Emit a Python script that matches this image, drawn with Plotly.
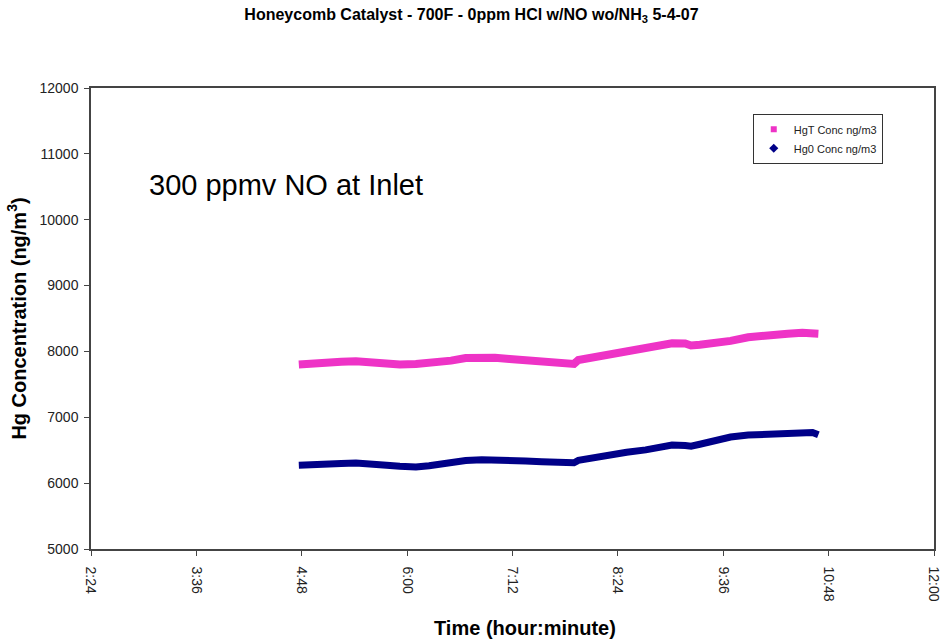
import plotly.graph_objects as go

times = ["4:46", "4:55", "5:05", "5:15", "5:25", "5:32", "5:40", "5:46", "5:55", "6:06",
         "6:15", "6:22", "6:30", "6:40", "6:51", "7:00", "7:10", "7:21", "7:32", "7:44",
         "7:50", "7:54", "7:57", "8:05", "8:18", "8:30", "8:43", "8:52", "9:01", "9:10",
         "9:14", "9:20", "9:31", "9:41", "9:53", "10:00", "10:09", "10:20", "10:30", "10:37",
         "10:41"]

hgt = [7800, 7820, 7835, 7845, 7850, 7835, 7815, 7800, 7800, 7810,
       7820, 7835, 7860, 7900, 7915, 7905, 7885, 7865, 7840, 7825,
       7815, 7810, 7870, 7900, 7975, 8020, 8055, 8100, 8125, 8120,
       8090, 8100, 8120, 8160, 8215, 8235, 8255, 8270, 8285, 8285,
       8270]

hg0 = [6270, 6285, 6297, 6300, 6305, 6300, 6285, 6270, 6255, 6245,
       6265, 6290, 6310, 6345, 6355, 6355, 6345, 6335, 6325, 6310,
       6305, 6310, 6345, 6380, 6430, 6470, 6505, 6540, 6580, 6570,
       6560, 6590, 6660, 6700, 6730, 6740, 6745, 6760, 6775, 6770,
       6735]

tick_labels = ["2:24", "3:36", "4:48", "6:00", "7:12", "8:24", "9:36", "10:48", "12:00"]
y_ticks = [5000, 6000, 7000, 8000, 9000, 10000, 11000, 12000]
y_tick_labels = [str(v) for v in y_ticks]


def to_hours(s):
    h, m = s.split(":")
    return int(h) + int(m) / 60.0


x = [to_hours(t) for t in times]
tick_vals = [to_hours(t) for t in tick_labels]

PINK = "#EE33C6"
NAVY = "#000088"
FONT = "Liberation Sans, Arial, sans-serif"

fig = go.Figure()
fig.add_trace(go.Scatter(x=x, y=hgt, mode="lines", line=dict(color=PINK, width=8),
                         showlegend=False, hoverinfo="skip"))
fig.add_trace(go.Scatter(x=x, y=hg0, mode="lines", line=dict(color=NAVY, width=7),
                         showlegend=False, hoverinfo="skip"))
fig.add_trace(go.Scatter(x=[None], y=[None], mode="markers", name="HgT Conc ng/m3",
                         marker=dict(symbol="square", color=PINK, size=6)))
fig.add_trace(go.Scatter(x=[None], y=[None], mode="markers", name="Hg0 Conc ng/m3",
                         marker=dict(symbol="diamond", color=NAVY, size=7)))

fig.add_annotation(text="300 ppmv NO at Inlet", xref="paper", yref="paper",
                   x=0.066, y=0.79, xanchor="left", yanchor="middle", showarrow=False,
                   font=dict(family=FONT, size=29, color="#000000"))

fig.add_annotation(text="<b>Time (hour:minute)</b>", xref="paper", yref="paper",
                   x=0.515, y=-0.171, xanchor="center", yanchor="middle", showarrow=False,
                   font=dict(family=FONT, size=20, color="#000000"))

fig.update_layout(
    width=943, height=641,
    margin=dict(l=91, r=9, t=88, b=92),
    paper_bgcolor="white", plot_bgcolor="white",
    font=dict(family=FONT, color="#222222"),
    title=dict(text="<b>Honeycomb Catalyst - 700F - 0ppm HCl w/NO wo/NH<sub>3</sub> 5-4-07</b>",
               x=0.5, xanchor="center", y=0.978, yanchor="middle",
               font=dict(family=FONT, size=16, color="#000000")),
    legend=dict(x=0.785, y=0.944, xanchor="left", yanchor="top",
                bgcolor="white", bordercolor="#333333", borderwidth=1,
                font=dict(family=FONT, size=11, color="#222222"),
                itemwidth=30, tracegroupgap=0),
    xaxis=dict(range=[2.4, 12.0], tickvals=tick_vals, ticktext=tick_labels,
               tickangle=90, ticks="outside", ticklen=5, tickcolor="#444444",
               ticklabelstandoff=8, ticklabeloverflow="allow", automargin=False,
               showgrid=False, zeroline=False,
               showline=True, linecolor="#444444", linewidth=1.5, mirror=True,
               tickfont=dict(family=FONT, size=14, color="#222222")),
    yaxis=dict(range=[5000, 12000], tickvals=y_ticks, ticktext=y_tick_labels,
               ticks="outside", ticklen=5, automargin=False, ticklabelstandoff=3,
               tickcolor="#444444", showgrid=False, zeroline=False,
               showline=True, linecolor="#444444", linewidth=1.5, mirror=True,
               tickfont=dict(family=FONT, size=14, color="#222222"),
               title=dict(text="<b>Hg Concentration (ng/m<sup>3</sup>)</b>", standoff=8,
                          font=dict(family=FONT, size=20, color="#000000"))),
)

fig.write_html("out.html")
